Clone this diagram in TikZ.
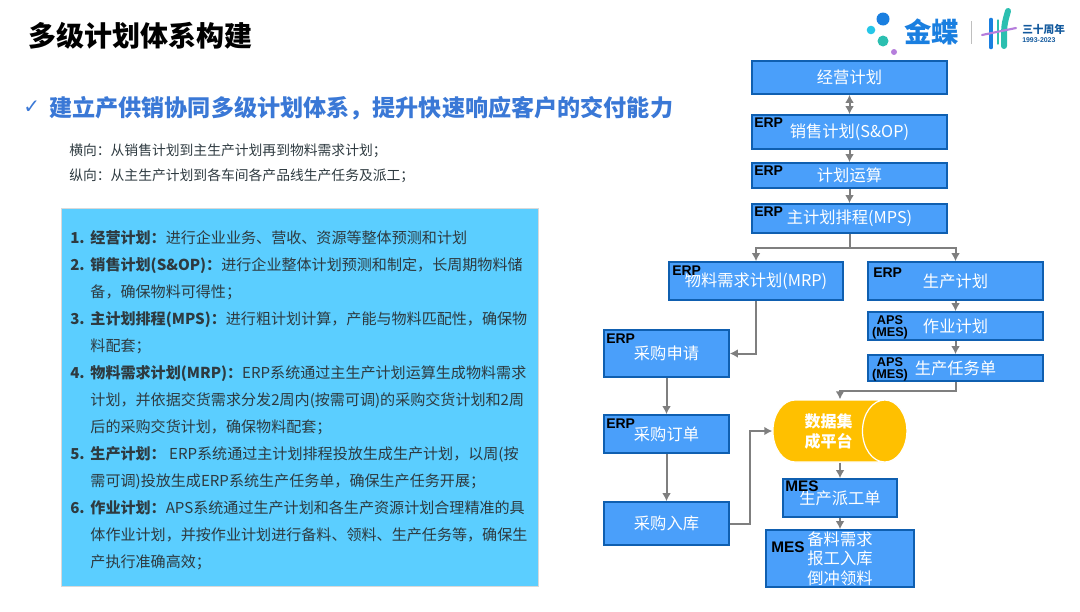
\documentclass[tikz,border=0pt]{standalone}
\usepackage{fontspec}
\setmainfont{Noto Sans CJK SC}
\newfontfamily\tagfont{Liberation Sans}
\newfontfamily\markfont{DejaVu Sans}
\usetikzlibrary{shapes.geometric,shadows,arrows.meta}
\def\px{0.75pt}
\definecolor{boxblue}{HTML}{4A9FFA}
\definecolor{boxline}{HTML}{0F5FB0}
\definecolor{panelblue}{HTML}{5BCEFF}
\definecolor{flowgray}{HTML}{7F7F7F}
\definecolor{headblue}{HTML}{3A78D6}
\definecolor{bodygray}{HTML}{2E3A40}
\definecolor{hubgold}{HTML}{FFC000}
\definecolor{logoblue}{HTML}{1A7FE0}
\definecolor{logoteal}{HTML}{2BBFB0}
\definecolor{logocyan}{HTML}{25C6E8}
\definecolor{logopurple}{HTML}{B57EDC}
\tikzset{
    planbox/.style={draw=boxline, fill=boxblue, line width=1.2pt, text=white, inner sep=0pt,
        align=center, font=\fontsize{12.2}{14.5}\selectfont}, % sizes below are in pixels
    tag/.style={anchor=west, inner sep=0pt, text=black, font=\tagfont\bfseries\fontsize{10.5}{11}\selectfont},
    mestag/.style={tag, font=\tagfont\bfseries\fontsize{11.5}{12}\selectfont},
    apstag/.style={inner sep=0pt, align=center, text=black, font=\tagfont\bfseries\fontsize{9.5}{9}\selectfont},
    flow/.style={draw=flowgray, line width=1.5pt, -{Latex[length=6pt,width=6.5pt]}},
    note/.style={anchor=west, inner sep=0pt, text=bodygray, font=\fontsize{10.35}{12}\selectfont},
    softshadow/.style={drop shadow={shadow xshift=0.5pt, shadow yshift=-0.7pt, opacity=.3}}
}
\begin{document}
\begin{tikzpicture}[x=\px, y=-\px]
    \useasboundingbox (0,0) rectangle (1080,611);
    % heading
    \node[anchor=west, inner sep=0pt, font=\bfseries\fontsize{21}{24}\selectfont] (title) at (28,36) {多级计划体系构建};
    \node[anchor=west, inner sep=0pt, text=headblue, font=\markfont\fontsize{15}{18}\selectfont] (check) at (23,107) {✓};
    \node[anchor=west, inner sep=0pt, text=headblue, font=\bfseries\fontsize{17.33}{22}\selectfont] (goal) at (49,108) {建立产供销协同多级计划体系，提升快速响应客户的交付能力};
    \node[note] (across) at (69,151) {横向：从销售计划到主生产计划再到物料需求计划；};
    \node[note] (down) at (69,176) {纵向：从主生产计划到各车间各产品线生产任务及派工；};
    % left panel
    \node[draw=black!15, fill=panelblue, drop shadow={shadow xshift=0.6pt, shadow yshift=-0.8pt, opacity=.45},
        minimum width=477*\px, minimum height=378*\px, inner sep=0pt] (panel) at (299.5,397) {};
    \node[anchor=west, inner sep=0pt, text=bodygray, font=\fontsize{11.3}{20.25}\selectfont] (items) at (70,400.5) {%
        \setlength{\baselineskip}{20.25pt}%
        \begin{tabular}{@{}l@{\hspace{4.3pt}}l@{}}
        \textbf{1.} & \textbf{经营计划：}进行企业业务、营收、资源等整体预测和计划\\
        \textbf{2.} & \textbf{销售计划(S\&OP)：}进行企业整体计划预测和制定，长周期物料储\\
         & 备，确保物料可得性；\\
        \textbf{3.} & \textbf{主计划排程(MPS)：}进行粗计划计算，产能与物料匹配性，确保物\\
         & 料配套；\\
        \textbf{4.} & \textbf{物料需求计划(MRP)：}ERP系统通过主生产计划运算生成物料需求\\
         & 计划，并依据交货需求分发2周内(按需可调)的采购交货计划和2周\\
         & 后的采购交货计划，确保物料配套；\\
        \textbf{5.} & \textbf{生产计划：} ERP系统通过主计划排程投放生成生产计划，以周(按\\
         & 需可调)投放生成ERP系统生产任务单，确保生产任务开展；\\
        \textbf{6.} & \textbf{作业计划：}APS系统通过生产计划和各生产资源计划合理精准的具\\
         & 体作业计划，并按作业计划进行备料、领料、生产任务等，确保生\\
         & 产执行准确高效；
        \end{tabular}};
    % logo
    \fill[logoblue] (883,19) circle (6.5) node (dota) {};
    \fill[logocyan] (871,30) circle (4.3) node (dotb) {};
    \fill[logoteal] (883,41) circle (5.5) node (dotc) {};
    \fill[logopurple] (894,52) circle (3) node (dotd) {};
    \node[anchor=west, inner sep=0pt, text=logoblue, font=\bfseries\fontsize{20.5}{22}\selectfont] (brand) at (904,32) {金蝶};
    \draw[black!25, line width=0.75pt] (971,21) -- (971,44);
    \draw[logoblue, line width=3.5pt, line cap=round] (991,20) -- (991,47);
    \draw[logoteal, line width=1pt, line cap=round] (998,20) -- (998,44);
    \draw[logoteal, line width=4.5pt, line cap=round] (1008,11) .. controls (1004,25) .. (1004,46);
    \draw[logopurple, line width=1.6pt, line cap=round] (982,35) -- (1016,28);
    \node[anchor=west, inner sep=0pt, text=logoblue!70!black, font=\bfseries\fontsize{8}{9}\selectfont] (years) at (1022,29) {三十周年};
    \node[anchor=west, inner sep=0pt, text=logoblue!70!black, font=\tagfont\bfseries\fontsize{5.2}{6}\selectfont] (span) at (1022,40) {1993-2023};
    % plan boxes
    \node[planbox, minimum width=195*\px, minimum height=33*\px] (plan) at (849.5,77.5) {经营计划};
    \node[planbox, minimum width=195*\px, minimum height=34*\px] (sales) at (849.5,132) {销售计划(S\&OP)};
    \node[planbox, minimum width=195*\px, minimum height=25*\px] (calc) at (849.5,175.5) {计划运算};
    \node[planbox, minimum width=195*\px, minimum height=29*\px] (mps) at (849.5,218.5) {主计划排程(MPS)};
    \node[planbox, minimum width=174*\px, minimum height=38*\px] (mrp) at (756,281) {物料需求计划(MRP)};
    \node[planbox, minimum width=175*\px, minimum height=38*\px] (prod) at (955.5,281) {生产计划};
    \node[planbox, minimum width=175*\px, minimum height=28*\px] (job) at (955.5,326) {作业计划};
    \node[planbox, minimum width=175*\px, minimum height=26*\px] (task) at (955.5,368) {生产任务单};
    \node[planbox, minimum width=125*\px, minimum height=47*\px] (req) at (666.5,353.5) {采购申请};
    \node[planbox, minimum width=125*\px, minimum height=38*\px] (order) at (666.5,434) {采购订单};
    \node[planbox, minimum width=125*\px, minimum height=43*\px] (store) at (666.5,523.5) {采购入库};
    \node[cylinder, shape aspect=1.25, draw=white, line width=0.9pt, cylinder uses custom fill,
        cylinder body fill=hubgold, cylinder end fill=hubgold, minimum width=62*\px, minimum height=134*\px,
        inner sep=0pt, align=center, text=white, font=\bfseries\fontsize{12}{15}\selectfont] (hub) at (828.5,431) {数据集\\成平台};
    \node[planbox, softshadow, minimum width=114*\px, minimum height=38*\px] (dispatch) at (840,498) {生产派工单};
    \node[planbox, softshadow, minimum width=148*\px, minimum height=57*\px] (prep) at (840,558.5) {备料需求\\报工入库\\倒冲领料};
    % system tags
    \node[tag] (tagsales) at (754,123) {ERP};
    \node[tag] (tagcalc) at (754,171) {ERP};
    \node[tag] (tagmps) at (754,212) {ERP};
    \node[tag] (tagmrp) at (672,271) {ERP};
    \node[tag] (tagprod) at (873,273) {ERP};
    \node[tag] (tagreq) at (606,339) {ERP};
    \node[tag] (tagorder) at (606,424) {ERP};
    \node[mestag] (tagdispatch) at (785,486) {MES};
    \node[mestag] (tagprep) at (771,547) {MES};
    \node[apstag] (tagjob) at (890,327) {APS\\(MES)};
    \node[apstag] (tagtask) at (890,369) {APS\\(MES)};
    % connectors
    \coordinate (split) at (849.5,248);
    \coordinate (taskturn) at (955.5,391);
    \coordinate (storeturn) at (750,431);
    \draw[flow, {Latex[length=6pt,width=6.5pt]}-{Latex[length=6pt,width=6.5pt]}] (plan) -- (sales);
    \draw[flow] (sales) -- (calc);
    \draw[flow] (calc) -- (mps);
    \draw[flow] (mps) -- (split) -| (mrp);
    \draw[flow] (split) -| (prod);
    \draw[flow] (mrp) |- (req);
    \draw[flow] (prod) -- (job);
    \draw[flow] (job) -- (task);
    \draw[flow] (req) -- (order);
    \draw[flow] (order) -- (store);
    \draw[flow] (task) -- (taskturn) -| (dispatch |- hub.north);
    \draw[flow] (store) -| (storeturn) -- (hub.west);
    \draw[flow] (dispatch |- hub.south) -- (dispatch);
    \draw[flow] (dispatch) -- (prep);
\end{tikzpicture}
\end{document}
